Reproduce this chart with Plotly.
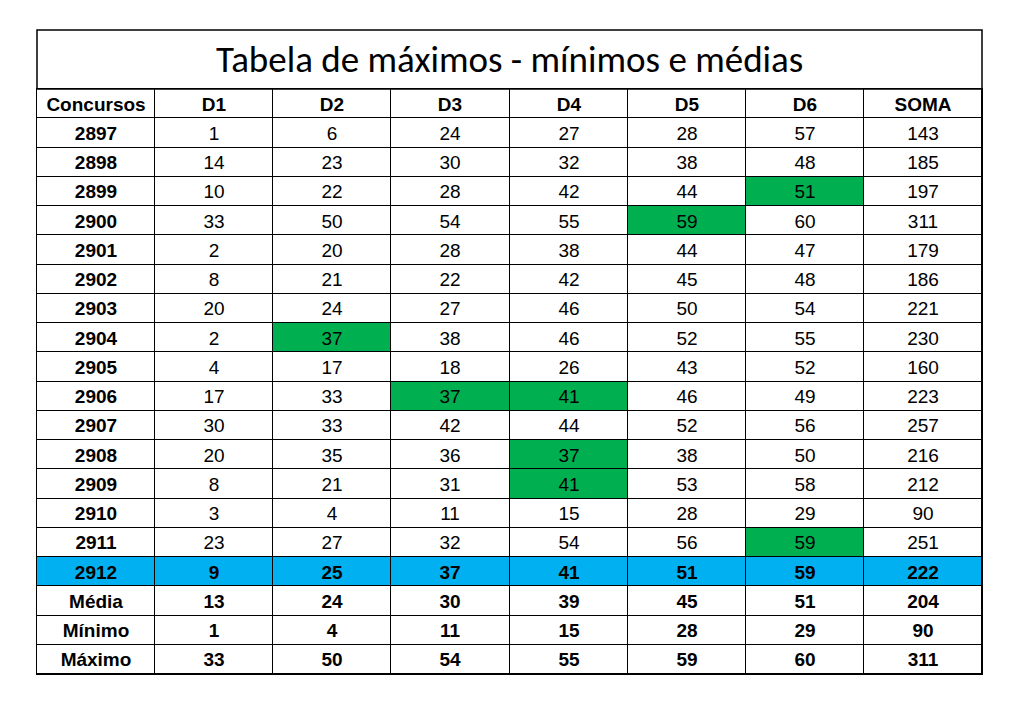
import plotly.graph_objects as go

W, H = 1001, 688   # page body has an 8px margin in the 1017x704 window
columns = ["Concursos", "D1", "D2", "D3", "D4", "D5", "D6", "SOMA"]
concursos = [2897, 2898, 2899, 2900, 2901, 2902, 2903, 2904, 2905, 2906, 2907, 2908, 2909, 2910, 2911, 2912]
d1 = [1, 14, 10, 33, 2, 8, 20, 2, 4, 17, 30, 20, 8, 3, 23, 9]
d2 = [6, 23, 22, 50, 20, 21, 24, 37, 17, 33, 33, 35, 21, 4, 27, 25]
d3 = [24, 30, 28, 54, 28, 22, 27, 38, 18, 37, 42, 36, 31, 11, 32, 37]
d4 = [27, 32, 42, 55, 38, 42, 46, 46, 26, 41, 44, 37, 41, 15, 54, 41]
d5 = [28, 38, 44, 59, 44, 45, 50, 52, 43, 46, 52, 38, 53, 28, 56, 51]
d6 = [57, 48, 51, 60, 47, 48, 54, 55, 52, 49, 56, 50, 58, 29, 59, 59]
soma = [143, 185, 197, 311, 179, 186, 221, 230, 160, 223, 257, 216, 212, 90, 251, 222]
stat_labels = ["Média", "Mínimo", "Máximo"]
stats = {"D1": [13, 1, 33], "D2": [24, 4, 50], "D3": [30, 11, 54], "D4": [39, 15, 55],
         "D5": [45, 28, 59], "D6": [51, 29, 60], "SOMA": [204, 90, 311]}
green = {(2899, "D6"), (2900, "D5"), (2904, "D2"), (2906, "D3"), (2906, "D4"),
         (2908, "D4"), (2909, "D4"), (2911, "D6")}
highlight = 2912
data_cols = {"D1": d1, "D2": d2, "D3": d3, "D4": d4, "D5": d5, "D6": d6, "SOMA": soma}

# Build grid: rows = header + data + stats
z, text = [], []
z.append([0] * len(columns))
text.append([f"<b>{c}</b>" for c in columns])
for i, c in enumerate(concursos):
    zr = [2 if c == highlight else 0]
    tr = [f"<b>{c}</b>"]
    for name in columns[1:]:
        v = data_cols[name][i]
        if c == highlight:
            zr.append(2); tr.append(f"<b>{v}</b>")
        else:
            zr.append(1 if (c, name) in green else 0); tr.append(str(v))
    z.append(zr); text.append(tr)
for k, s in enumerate(stat_labels):
    z.append([0] * len(columns))
    text.append([f"<b>{s}</b>"] + [f"<b>{stats[n][k]}</b>" for n in columns[1:]])

nrows = len(z)
fig = go.Figure(go.Heatmap(
    z=z, text=text, texttemplate="%{text}", x=list(range(len(columns))), y=list(range(nrows)),
    zmin=0, zmax=2, colorscale=[[0, "white"], [0.5, "#00B050"], [1, "#00B0F0"]],
    showscale=False, xgap=1, ygap=1, hoverinfo="skip",
    textfont=dict(family="Liberation Sans, Arial", size=19, color="black"),
))

x0, x1, yt, yh, yb = 37 - 8, 982 - 8, 30 - 8, 89 - 8, 674 - 8
ph = yb - yh
fig.update_layout(
    width=W, height=H, margin=dict(l=x0, r=W - x1, t=yh, b=H - yb),
    paper_bgcolor="white", plot_bgcolor="black",
    xaxis=dict(range=[-0.5, len(columns) - 0.5], visible=True, showticklabels=False,
               showgrid=False, zeroline=False, ticks="", showline=True, linecolor="black",
               linewidth=1, mirror=True),
    yaxis=dict(range=[nrows - 0.5, -0.5], showticklabels=False, showgrid=False,
               zeroline=False, ticks="", showline=True, linecolor="black", linewidth=1,
               mirror=True),
)
fig.add_shape(type="rect", xref="paper", yref="paper", x0=0, x1=1,
              y0=1, y1=1 + (yh - yt) / ph, line=dict(color="black", width=1.5))
fig.add_annotation(text="Tabela de máximos - mínimos e médias", xref="paper", yref="paper",
                   x=0.5, y=1 + (yh - yt) / 2 / ph, xanchor="center", yanchor="middle",
                   showarrow=False,
                   font=dict(family="Carlito, Open Sans, Liberation Sans", size=37, color="black"))
fig.write_html("out.html")
